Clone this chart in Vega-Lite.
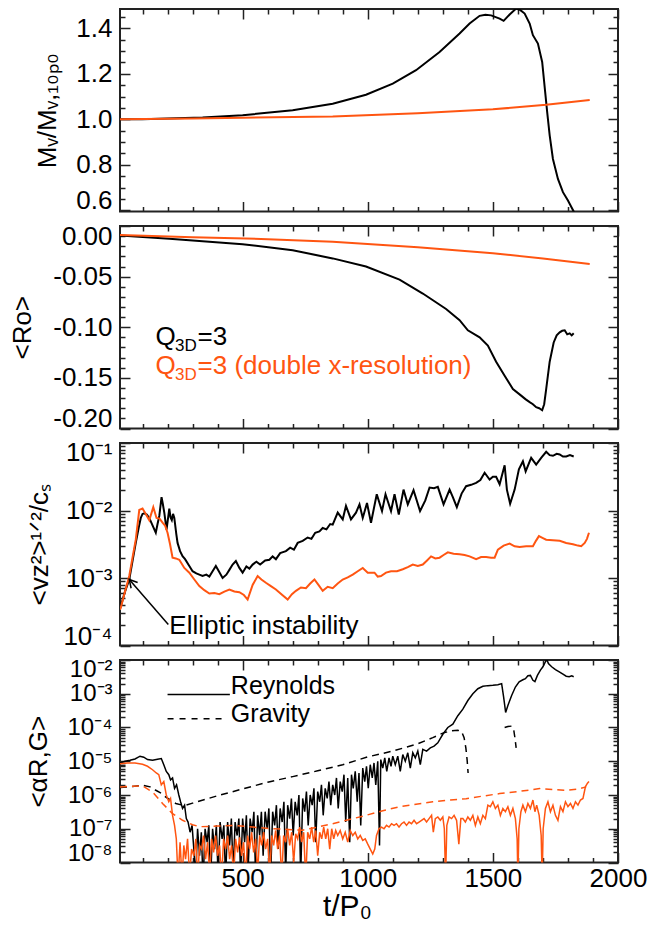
{
  "$schema": "https://vega.github.io/schema/vega-lite/v6.json",
  "padding": {"left": 8, "top": 7, "right": 5, "bottom": 5},
  "autosize": {"type": "pad"},
  "spacing": 14,
  "bounds": "flush",
  "config": {
    "view": {"stroke": "#222", "strokeWidth": 2},
    "axis": {"domain": false, "grid": false, "labelFont": "Liberation Sans", "labelFontSize": 26, "labelColor": "#000", "titleFont": "Liberation Sans", "titleFontSize": 26, "titleFontWeight": "normal", "titleColor": "#000", "tickColor": "#222", "tickWidth": 1.5},
    "text": {"font": "Liberation Sans"}
  },
  "datasets": {
    "p1_black": [{"t":10,"v":1.0},{"t":100,"v":1.0},{"t":200,"v":1.004},{"t":340,"v":1.008},{"t":500,"v":1.018},{"t":700,"v":1.04},{"t":860,"v":1.069},{"t":993,"v":1.108},{"t":1100,"v":1.157},{"t":1193,"v":1.216},{"t":1287,"v":1.296},{"t":1367,"v":1.377},{"t":1407,"v":1.421},{"t":1447,"v":1.455},{"t":1470,"v":1.46},{"t":1493,"v":1.457},{"t":1527,"v":1.443},{"t":1543,"v":1.433},{"t":1567,"v":1.461},{"t":1593,"v":1.487},{"t":1610,"v":1.48},{"t":1627,"v":1.465},{"t":1647,"v":1.421},{"t":1660,"v":1.37},{"t":1680,"v":1.333},{"t":1697,"v":1.252},{"t":1709,"v":1.12},{"t":1717,"v":1.032},{"t":1727,"v":0.93},{"t":1740,"v":0.826},{"t":1760,"v":0.738},{"t":1780,"v":0.68},{"t":1800,"v":0.643},{"t":1823,"v":0.595},{"t":1835,"v":0.57}],
    "p1_orange": [{"t":10,"v":1.0},{"t":300,"v":1.004},{"t":500,"v":1.007},{"t":860,"v":1.013},{"t":1200,"v":1.027},{"t":1500,"v":1.044},{"t":1713,"v":1.064},{"t":1887,"v":1.085}],
    "p2_black": [{"t":10,"v":-0.0094},{"t":207,"v":-0.0127},{"t":500,"v":-0.018},{"t":700,"v":-0.024},{"t":860,"v":-0.032},{"t":993,"v":-0.04},{"t":1127,"v":-0.053},{"t":1220,"v":-0.0667},{"t":1313,"v":-0.082},{"t":1367,"v":-0.093},{"t":1400,"v":-0.103},{"t":1447,"v":-0.11},{"t":1480,"v":-0.118},{"t":1513,"v":-0.134},{"t":1547,"v":-0.148},{"t":1580,"v":-0.161},{"t":1613,"v":-0.1675},{"t":1630,"v":-0.171},{"t":1647,"v":-0.174},{"t":1660,"v":-0.176},{"t":1673,"v":-0.179},{"t":1685,"v":-0.18},{"t":1697,"v":-0.182},{"t":1705,"v":-0.176},{"t":1713,"v":-0.161},{"t":1727,"v":-0.134},{"t":1743,"v":-0.115},{"t":1755,"v":-0.108},{"t":1767,"v":-0.105},{"t":1777,"v":-0.1035},{"t":1787,"v":-0.103},{"t":1797,"v":-0.107},{"t":1807,"v":-0.106},{"t":1815,"v":-0.108},{"t":1823,"v":-0.106}],
    "p2_orange": [{"t":10,"v":-0.009},{"t":300,"v":-0.011},{"t":600,"v":-0.013},{"t":860,"v":-0.0155},{"t":1200,"v":-0.021},{"t":1500,"v":-0.027},{"t":1700,"v":-0.032},{"t":1887,"v":-0.0375}],
    "p3_black": [{"t":10,"v":3.55e-4},{"t":13,"v":3.8e-4},{"t":30,"v":6.3e-4},{"t":47,"v":9.5e-4},{"t":60,"v":1.78e-3},{"t":73,"v":3.31e-3},{"t":85,"v":5.62e-3},{"t":93,"v":7.76e-3},{"t":100,"v":8.9e-3},{"t":107,"v":9.1e-3},{"t":117,"v":8.7e-3},{"t":127,"v":7.76e-3},{"t":140,"v":6.0e-3},{"t":153,"v":4.68e-3},{"t":160,"v":6.3e-3},{"t":167,"v":8.3e-3},{"t":176,"v":1.58e-2},{"t":181,"v":1.26e-2},{"t":187,"v":9.3e-3},{"t":196,"v":5.2e-3},{"t":207,"v":1.07e-2},{"t":212,"v":7.9e-3},{"t":217,"v":7.2e-3},{"t":222,"v":8.9e-3},{"t":227,"v":7.76e-3},{"t":235,"v":4.47e-3},{"t":240,"v":3.31e-3},{"t":250,"v":2.5e-3},{"t":260,"v":2.1e-3},{"t":270,"v":1.9e-3},{"t":287,"v":1.51e-3},{"t":300,"v":1.26e-3},{"t":315,"v":1.17e-3},{"t":327,"v":1.12e-3},{"t":340,"v":1.07e-3},{"t":355,"v":1.12e-3},{"t":367,"v":1.05e-3},{"t":380,"v":1.26e-3},{"t":393,"v":1.51e-3},{"t":405,"v":1.26e-3},{"t":420,"v":1.0e-3},{"t":435,"v":1.12e-3},{"t":447,"v":1.32e-3},{"t":460,"v":1.58e-3},{"t":473,"v":1.78e-3},{"t":487,"v":1.41e-3},{"t":500,"v":1.2e-3},{"t":515,"v":1.48e-3},{"t":527,"v":1.38e-3},{"t":540,"v":1.58e-3},{"t":555,"v":1.74e-3},{"t":570,"v":1.58e-3},{"t":590,"v":1.82e-3},{"t":607,"v":1.86e-3},{"t":620,"v":2.09e-3},{"t":633,"v":1.9e-3},{"t":650,"v":2.34e-3},{"t":673,"v":2.5e-3},{"t":690,"v":2.82e-3},{"t":705,"v":2.63e-3},{"t":720,"v":3.31e-3},{"t":740,"v":3.55e-3},{"t":760,"v":3.98e-3},{"t":775,"v":3.8e-3},{"t":790,"v":4.68e-3},{"t":807,"v":4.9e-3},{"t":820,"v":5.5e-3},{"t":835,"v":5.25e-3},{"t":850,"v":6.3e-3},{"t":860,"v":6.17e-3},{"t":880,"v":9.3e-3},{"t":900,"v":7.4e-3},{"t":913,"v":1.17e-2},{"t":933,"v":7.4e-3},{"t":953,"v":9.3e-3},{"t":967,"v":1.23e-2},{"t":980,"v":7.76e-3},{"t":997,"v":1.29e-2},{"t":1013,"v":6.6e-3},{"t":1036,"v":1.74e-2},{"t":1057,"v":9.8e-3},{"t":1071,"v":1.74e-2},{"t":1093,"v":9.8e-3},{"t":1107,"v":1.74e-2},{"t":1124,"v":8.7e-3},{"t":1143,"v":2.04e-2},{"t":1160,"v":1.23e-2},{"t":1183,"v":2.0e-2},{"t":1209,"v":9.8e-3},{"t":1230,"v":1.41e-2},{"t":1247,"v":2.19e-2},{"t":1265,"v":2.14e-2},{"t":1280,"v":2.24e-2},{"t":1303,"v":1.23e-2},{"t":1327,"v":2.04e-2},{"t":1340,"v":1.58e-2},{"t":1356,"v":1.12e-2},{"t":1375,"v":1.78e-2},{"t":1393,"v":2.29e-2},{"t":1413,"v":2.4e-2},{"t":1433,"v":2.57e-2},{"t":1450,"v":2.82e-2},{"t":1467,"v":3.63e-2},{"t":1487,"v":2.88e-2},{"t":1500,"v":3.16e-2},{"t":1513,"v":3.16e-2},{"t":1527,"v":2.45e-2},{"t":1547,"v":4.68e-2},{"t":1556,"v":2.04e-2},{"t":1569,"v":1.26e-2},{"t":1587,"v":2.04e-2},{"t":1604,"v":4.07e-2},{"t":1620,"v":5.37e-2},{"t":1631,"v":3.8e-2},{"t":1653,"v":6.03e-2},{"t":1673,"v":4.79e-2},{"t":1693,"v":6.03e-2},{"t":1713,"v":7.41e-2},{"t":1727,"v":6.6e-2},{"t":1740,"v":6.46e-2},{"t":1755,"v":6.92e-2},{"t":1767,"v":6.76e-2},{"t":1780,"v":6.3e-2},{"t":1793,"v":6.3e-2},{"t":1808,"v":6.6e-2},{"t":1823,"v":6.3e-2}],
    "p3_orange": [{"t":10,"v":3.4e-4},{"t":13,"v":3.6e-4},{"t":30,"v":6.3e-4},{"t":47,"v":1.07e-3},{"t":60,"v":2.0e-3},{"t":73,"v":3.7e-3},{"t":87,"v":1.02e-2},{"t":100,"v":1.07e-2},{"t":113,"v":8.9e-3},{"t":127,"v":7.2e-3},{"t":143,"v":1.12e-2},{"t":156,"v":7.76e-3},{"t":168,"v":7.6e-3},{"t":180,"v":6.6e-3},{"t":190,"v":6.0e-3},{"t":200,"v":4.68e-3},{"t":210,"v":3.16e-3},{"t":220,"v":2.0e-3},{"t":233,"v":1.95e-3},{"t":247,"v":1.86e-3},{"t":267,"v":1.41e-3},{"t":287,"v":1.2e-3},{"t":307,"v":9.5e-4},{"t":327,"v":7.6e-4},{"t":347,"v":6.6e-4},{"t":367,"v":5.9e-4},{"t":387,"v":6.0e-4},{"t":407,"v":5.75e-4},{"t":427,"v":6.3e-4},{"t":447,"v":6.76e-4},{"t":467,"v":6.3e-4},{"t":487,"v":6.17e-4},{"t":505,"v":5.6e-4},{"t":520,"v":4.8e-4},{"t":540,"v":7.9e-4},{"t":560,"v":1.07e-3},{"t":575,"v":9.5e-4},{"t":593,"v":8.5e-4},{"t":613,"v":7.6e-4},{"t":633,"v":6.76e-4},{"t":655,"v":5.75e-4},{"t":680,"v":4.8e-4},{"t":697,"v":5.75e-4},{"t":713,"v":6.46e-4},{"t":733,"v":7.24e-4},{"t":753,"v":7.08e-4},{"t":770,"v":8.3e-4},{"t":787,"v":9.5e-4},{"t":803,"v":7.9e-4},{"t":820,"v":6.46e-4},{"t":840,"v":7.4e-4},{"t":860,"v":7.08e-4},{"t":880,"v":8.3e-4},{"t":900,"v":9.5e-4},{"t":920,"v":1.02e-3},{"t":940,"v":1.12e-3},{"t":960,"v":1.26e-3},{"t":980,"v":1.41e-3},{"t":1000,"v":1.2e-3},{"t":1027,"v":1.2e-3},{"t":1040,"v":1.05e-3},{"t":1053,"v":1.07e-3},{"t":1073,"v":1.2e-3},{"t":1093,"v":1.26e-3},{"t":1117,"v":1.26e-3},{"t":1140,"v":1.35e-3},{"t":1160,"v":1.45e-3},{"t":1180,"v":1.58e-3},{"t":1200,"v":1.51e-3},{"t":1220,"v":1.58e-3},{"t":1237,"v":1.82e-3},{"t":1253,"v":2.09e-3},{"t":1270,"v":1.95e-3},{"t":1287,"v":2.0e-3},{"t":1303,"v":2.19e-3},{"t":1320,"v":2.4e-3},{"t":1343,"v":2.29e-3},{"t":1367,"v":2.24e-3},{"t":1387,"v":2.19e-3},{"t":1407,"v":2.09e-3},{"t":1433,"v":1.9e-3},{"t":1453,"v":2.04e-3},{"t":1473,"v":2.04e-3},{"t":1493,"v":2.0e-3},{"t":1507,"v":2.0e-3},{"t":1520,"v":2.63e-3},{"t":1543,"v":3.02e-3},{"t":1567,"v":3.24e-3},{"t":1587,"v":2.95e-3},{"t":1607,"v":2.88e-3},{"t":1633,"v":2.95e-3},{"t":1660,"v":2.95e-3},{"t":1672,"v":3.55e-3},{"t":1684,"v":4.17e-3},{"t":1700,"v":3.9e-3},{"t":1713,"v":3.7e-3},{"t":1740,"v":3.63e-3},{"t":1767,"v":3.55e-3},{"t":1793,"v":3.31e-3},{"t":1820,"v":3.16e-3},{"t":1840,"v":3.02e-3},{"t":1853,"v":2.95e-3},{"t":1867,"v":3.31e-3},{"t":1876,"v":3.8e-3},{"t":1884,"v":4.68e-3}],
    "p4_black_rey": [{"t":10,"v":8.9e-6},{"t":30,"v":1.0e-5},{"t":50,"v":1.07e-5},{"t":70,"v":1.17e-5},{"t":90,"v":1.41e-5},{"t":105,"v":1.32e-5},{"t":120,"v":1.12e-5},{"t":140,"v":1.07e-5},{"t":160,"v":1.15e-5},{"t":175,"v":1.2e-5},{"t":185,"v":7.9e-6},{"t":195,"v":5.0e-6},{"t":205,"v":4.0e-6},{"t":212,"v":2.8e-6},{"t":220,"v":3.2e-6},{"t":228,"v":1.58e-6},{"t":236,"v":2.0e-6},{"t":245,"v":1.0e-6},{"t":252,"v":6.3e-7},{"t":260,"v":4.0e-7},{"t":268,"v":5.0e-7},{"t":275,"v":2.0e-7},{"t":282,"v":1.58e-7},{"t":290,"v":7.9e-8},{"t":298,"v":1.26e-7},{"t":305,"v":2.5e-8},{"t":312,"v":3.2e-9},{"t":320,"v":1.0e-7},{"t":328,"v":1.58e-8},{"t":335,"v":7.9e-8},{"t":342,"v":2.5e-9},{"t":350,"v":1.0e-7},{"t":358,"v":4.0e-8},{"t":365,"v":1.26e-7},{"t":372,"v":3.2e-9},{"t":380,"v":1.0e-7},{"t":388,"v":2.5e-8},{"t":395,"v":1.26e-7},{"t":402,"v":4.0e-9},{"t":410,"v":1.58e-7},{"t":418,"v":5.0e-8},{"t":425,"v":1.26e-7},{"t":432,"v":3.2e-9},{"t":440,"v":1.58e-7},{"t":448,"v":3.2e-8},{"t":455,"v":2.0e-7},{"t":462,"v":5.0e-9},{"t":470,"v":1.58e-7},{"t":478,"v":6.3e-8},{"t":485,"v":2.0e-7},{"t":492,"v":4.0e-9},{"t":500,"v":2.0e-7},{"t":508,"v":4.0e-8},{"t":515,"v":2.5e-7},{"t":522,"v":6.3e-9},{"t":530,"v":2.0e-7},{"t":538,"v":7.9e-8},{"t":545,"v":3.2e-7},{"t":552,"v":3.2e-9},{"t":560,"v":2.5e-7},{"t":568,"v":6.3e-8},{"t":575,"v":3.2e-7},{"t":582,"v":1.58e-8},{"t":590,"v":3.2e-7},{"t":598,"v":1.0e-7},{"t":605,"v":4.0e-7},{"t":612,"v":4.0e-9},{"t":620,"v":3.2e-7},{"t":628,"v":1.26e-7},{"t":635,"v":5.0e-7},{"t":642,"v":2.5e-8},{"t":650,"v":4.0e-7},{"t":658,"v":1.58e-7},{"t":665,"v":6.3e-7},{"t":672,"v":5.0e-9},{"t":680,"v":5.0e-7},{"t":688,"v":2.0e-7},{"t":695,"v":7.9e-7},{"t":702,"v":6.3e-8},{"t":710,"v":6.3e-7},{"t":718,"v":2.5e-7},{"t":725,"v":1.0e-6},{"t":732,"v":4.0e-9},{"t":740,"v":7.9e-7},{"t":748,"v":3.2e-7},{"t":755,"v":1.26e-6},{"t":762,"v":1.26e-7},{"t":770,"v":1.0e-6},{"t":778,"v":5.0e-7},{"t":785,"v":1.58e-6},{"t":792,"v":4.0e-8},{"t":800,"v":1.26e-6},{"t":808,"v":6.3e-7},{"t":815,"v":2.0e-6},{"t":822,"v":2.5e-7},{"t":830,"v":1.58e-6},{"t":838,"v":7.9e-7},{"t":845,"v":2.5e-6},{"t":852,"v":5.0e-7},{"t":860,"v":2.0e-6},{"t":868,"v":1.0e-6},{"t":875,"v":3.2e-6},{"t":882,"v":4.0e-7},{"t":890,"v":2.5e-6},{"t":898,"v":1.26e-6},{"t":905,"v":4.0e-6},{"t":912,"v":1.58e-7},{"t":920,"v":3.2e-6},{"t":928,"v":4.0e-8},{"t":935,"v":4.0e-6},{"t":942,"v":1.58e-6},{"t":950,"v":5.0e-6},{"t":958,"v":6.3e-7},{"t":965,"v":4.5e-6},{"t":972,"v":1.26e-7},{"t":980,"v":6.3e-6},{"t":988,"v":2.5e-6},{"t":995,"v":7.1e-6},{"t":1002,"v":1.58e-6},{"t":1010,"v":7.9e-6},{"t":1018,"v":3.2e-6},{"t":1025,"v":8.9e-6},{"t":1032,"v":2.0e-6},{"t":1040,"v":1.0e-5},{"t":1047,"v":3.2e-8},{"t":1052,"v":1.12e-5},{"t":1060,"v":6.3e-6},{"t":1068,"v":1.26e-5},{"t":1076,"v":5.0e-6},{"t":1085,"v":1.26e-5},{"t":1093,"v":7.1e-6},{"t":1100,"v":1.41e-5},{"t":1110,"v":7.9e-6},{"t":1120,"v":1.41e-5},{"t":1130,"v":5.0e-6},{"t":1140,"v":1.58e-5},{"t":1150,"v":1.0e-5},{"t":1160,"v":1.78e-5},{"t":1170,"v":6.3e-6},{"t":1180,"v":1.78e-5},{"t":1190,"v":1.26e-5},{"t":1200,"v":2.0e-5},{"t":1210,"v":7.9e-6},{"t":1220,"v":2.24e-5},{"t":1235,"v":2.0e-5},{"t":1250,"v":2.5e-5},{"t":1265,"v":2.8e-5},{"t":1280,"v":3.5e-5},{"t":1300,"v":6.3e-5},{"t":1320,"v":1.0e-4},{"t":1340,"v":1.26e-4},{"t":1360,"v":2.24e-4},{"t":1380,"v":3.5e-4},{"t":1400,"v":6.3e-4},{"t":1420,"v":1.0e-3},{"t":1440,"v":1.41e-3},{"t":1460,"v":1.66e-3},{"t":1480,"v":1.74e-3},{"t":1500,"v":1.78e-3},{"t":1520,"v":1.86e-3},{"t":1535,"v":2.0e-3},{"t":1543,"v":7.9e-4},{"t":1551,"v":2.8e-4},{"t":1560,"v":4.5e-4},{"t":1575,"v":8.9e-4},{"t":1590,"v":1.58e-3},{"t":1605,"v":2.24e-3},{"t":1620,"v":2.6e-3},{"t":1630,"v":2.8e-3},{"t":1640,"v":3.4e-3},{"t":1650,"v":3.5e-3},{"t":1660,"v":2.5e-3},{"t":1668,"v":2.3e-3},{"t":1678,"v":3.5e-3},{"t":1690,"v":5.0e-3},{"t":1700,"v":6.3e-3},{"t":1710,"v":8.9e-3},{"t":1715,"v":1.05e-2},{"t":1722,"v":7.9e-3},{"t":1735,"v":6.3e-3},{"t":1750,"v":5.2e-3},{"t":1767,"v":4.4e-3},{"t":1780,"v":3.8e-3},{"t":1793,"v":3.3e-3},{"t":1805,"v":3.2e-3},{"t":1815,"v":3.4e-3},{"t":1823,"v":3.2e-3}],
    "p4_black_grav": [{"seg":1,"t":10,"v":1.66e-6},{"seg":1,"t":60,"v":1.78e-6},{"seg":1,"t":100,"v":1.95e-6},{"seg":1,"t":130,"v":1.74e-6},{"seg":1,"t":153,"v":1.38e-6},{"seg":1,"t":175,"v":1.12e-6},{"seg":1,"t":193,"v":8.7e-7},{"seg":1,"t":215,"v":6.8e-7},{"seg":1,"t":233,"v":5.6e-7},{"seg":1,"t":255,"v":5.1e-7},{"seg":1,"t":273,"v":5.0e-7},{"seg":1,"t":300,"v":5.75e-7},{"seg":1,"t":400,"v":9.5e-7},{"seg":1,"t":500,"v":1.51e-6},{"seg":1,"t":600,"v":2.4e-6},{"seg":1,"t":700,"v":3.5e-6},{"seg":1,"t":800,"v":5.2e-6},{"seg":1,"t":900,"v":7.9e-6},{"seg":1,"t":1000,"v":1.35e-5},{"seg":1,"t":1100,"v":2.0e-5},{"seg":1,"t":1200,"v":3.3e-5},{"seg":1,"t":1260,"v":5.0e-5},{"seg":1,"t":1300,"v":6.8e-5},{"seg":1,"t":1330,"v":7.9e-5},{"seg":1,"t":1360,"v":8.3e-5},{"seg":1,"t":1375,"v":7.6e-5},{"seg":1,"t":1385,"v":5.0e-5},{"seg":1,"t":1392,"v":2.5e-5},{"seg":1,"t":1397,"v":1.12e-5},{"seg":1,"t":1401,"v":4.5e-6},{"seg":2,"t":1547,"v":1.0e-4},{"seg":2,"t":1560,"v":1.07e-4},{"seg":2,"t":1575,"v":1.1e-4},{"seg":2,"t":1583,"v":8.9e-5},{"seg":2,"t":1588,"v":5.0e-5},{"seg":2,"t":1593,"v":2.5e-5}],
    "p4_orange_rey": [{"t":10,"v":8.5e-6},{"t":40,"v":8.9e-6},{"t":70,"v":8.9e-6},{"t":100,"v":8.1e-6},{"t":120,"v":7.1e-6},{"t":140,"v":5.6e-6},{"t":155,"v":4.5e-6},{"t":165,"v":4.0e-6},{"t":175,"v":2.0e-6},{"t":185,"v":2.5e-6},{"t":195,"v":1.0e-6},{"t":205,"v":6.3e-7},{"t":212,"v":7.9e-7},{"t":220,"v":2.5e-7},{"t":228,"v":1.26e-7},{"t":235,"v":5.0e-8},{"t":242,"v":3.2e-9},{"t":250,"v":4.0e-8},{"t":258,"v":3.2e-9},{"t":265,"v":3.2e-8},{"t":272,"v":1.26e-8},{"t":280,"v":5.0e-8},{"t":288,"v":4.0e-9},{"t":296,"v":2.5e-8},{"t":305,"v":1.58e-8},{"t":313,"v":5.0e-8},{"t":320,"v":3.2e-9},{"t":328,"v":3.2e-8},{"t":336,"v":2.5e-8},{"t":344,"v":6.3e-8},{"t":352,"v":1.26e-8},{"t":360,"v":4.0e-8},{"t":368,"v":4.0e-9},{"t":376,"v":5.0e-8},{"t":384,"v":2.0e-8},{"t":392,"v":6.3e-8},{"t":400,"v":1.58e-8},{"t":408,"v":3.2e-8},{"t":416,"v":3.2e-9},{"t":424,"v":5.0e-8},{"t":432,"v":2.5e-8},{"t":440,"v":6.3e-8},{"t":448,"v":1.26e-8},{"t":456,"v":3.2e-8},{"t":464,"v":4.0e-9},{"t":472,"v":5.0e-8},{"t":480,"v":2.0e-8},{"t":488,"v":5.6e-8},{"t":496,"v":1.58e-8},{"t":504,"v":4.0e-8},{"t":512,"v":3.2e-9},{"t":520,"v":6.3e-8},{"t":528,"v":2.5e-8},{"t":536,"v":7.9e-8},{"t":544,"v":2.0e-8},{"t":552,"v":5.0e-8},{"t":560,"v":5.0e-9},{"t":568,"v":6.3e-8},{"t":576,"v":3.2e-8},{"t":584,"v":7.9e-8},{"t":592,"v":2.5e-8},{"t":600,"v":5.0e-8},{"t":608,"v":4.0e-9},{"t":616,"v":6.3e-8},{"t":624,"v":3.2e-8},{"t":632,"v":8.9e-8},{"t":640,"v":2.5e-8},{"t":648,"v":6.3e-8},{"t":656,"v":3.2e-9},{"t":664,"v":6.3e-8},{"t":672,"v":4.0e-8},{"t":680,"v":1.0e-7},{"t":688,"v":3.2e-8},{"t":696,"v":7.9e-8},{"t":704,"v":1.0e-8},{"t":712,"v":7.1e-8},{"t":720,"v":5.0e-8},{"t":728,"v":1.12e-7},{"t":736,"v":4.0e-8},{"t":744,"v":7.9e-8},{"t":752,"v":3.2e-9},{"t":760,"v":7.9e-8},{"t":768,"v":5.0e-8},{"t":776,"v":1.12e-7},{"t":784,"v":4.0e-8},{"t":792,"v":8.9e-8},{"t":800,"v":1.58e-8},{"t":808,"v":7.9e-8},{"t":816,"v":5.0e-8},{"t":824,"v":1.12e-7},{"t":832,"v":5.0e-8},{"t":840,"v":1.0e-7},{"t":848,"v":2.5e-8},{"t":856,"v":1.0e-7},{"t":864,"v":5.0e-8},{"t":872,"v":8.9e-8},{"t":880,"v":6.3e-8},{"t":890,"v":8.9e-8},{"t":900,"v":5.0e-8},{"t":910,"v":7.9e-8},{"t":920,"v":4.0e-8},{"t":930,"v":8.9e-8},{"t":940,"v":6.3e-8},{"t":950,"v":7.9e-8},{"t":960,"v":5.0e-8},{"t":970,"v":6.3e-8},{"t":980,"v":4.5e-8},{"t":990,"v":5.0e-8},{"t":1000,"v":3.5e-8},{"t":1010,"v":2.5e-8},{"t":1020,"v":1.78e-8},{"t":1028,"v":2.5e-8},{"t":1035,"v":6.3e-8},{"t":1045,"v":1.0e-7},{"t":1055,"v":1.12e-7},{"t":1065,"v":1.0e-7},{"t":1075,"v":1.26e-7},{"t":1085,"v":1.12e-7},{"t":1095,"v":1.41e-7},{"t":1105,"v":1.26e-7},{"t":1115,"v":1.41e-7},{"t":1125,"v":1.12e-7},{"t":1135,"v":1.41e-7},{"t":1145,"v":1.58e-7},{"t":1155,"v":1.26e-7},{"t":1165,"v":1.58e-7},{"t":1175,"v":1.41e-7},{"t":1185,"v":1.78e-7},{"t":1195,"v":1.41e-7},{"t":1205,"v":1.58e-7},{"t":1215,"v":1.78e-7},{"t":1225,"v":2.0e-7},{"t":1235,"v":1.58e-7},{"t":1245,"v":2.0e-7},{"t":1255,"v":2.5e-7},{"t":1262,"v":7.9e-8},{"t":1270,"v":2.0e-7},{"t":1280,"v":2.24e-7},{"t":1290,"v":1.78e-7},{"t":1300,"v":2.24e-7},{"t":1306,"v":1.0e-7},{"t":1311,"v":3.2e-9},{"t":1316,"v":1.26e-7},{"t":1325,"v":2.24e-7},{"t":1335,"v":2.0e-7},{"t":1345,"v":2.5e-7},{"t":1355,"v":1.78e-7},{"t":1364,"v":3.5e-8},{"t":1372,"v":2.0e-7},{"t":1380,"v":2.0e-7},{"t":1390,"v":1.58e-7},{"t":1400,"v":2.24e-7},{"t":1410,"v":1.78e-7},{"t":1420,"v":2.5e-7},{"t":1430,"v":1.26e-7},{"t":1440,"v":2.24e-7},{"t":1450,"v":1.41e-7},{"t":1460,"v":2.5e-7},{"t":1470,"v":2.0e-7},{"t":1480,"v":5.0e-7},{"t":1490,"v":4.5e-7},{"t":1500,"v":6.3e-7},{"t":1510,"v":4.0e-7},{"t":1520,"v":5.0e-7},{"t":1530,"v":2.5e-7},{"t":1540,"v":4.0e-7},{"t":1550,"v":3.2e-7},{"t":1560,"v":4.5e-7},{"t":1570,"v":2.5e-7},{"t":1580,"v":4.0e-7},{"t":1590,"v":2.0e-7},{"t":1597,"v":5.0e-8},{"t":1600,"v":3.2e-9},{"t":1604,"v":1.0e-7},{"t":1612,"v":3.2e-7},{"t":1620,"v":5.0e-7},{"t":1630,"v":3.2e-7},{"t":1640,"v":5.6e-7},{"t":1650,"v":4.0e-7},{"t":1660,"v":7.1e-7},{"t":1668,"v":3.2e-7},{"t":1675,"v":5.0e-7},{"t":1685,"v":2.5e-7},{"t":1693,"v":6.3e-8},{"t":1697,"v":3.2e-9},{"t":1701,"v":1.0e-7},{"t":1710,"v":4.0e-7},{"t":1720,"v":6.3e-7},{"t":1730,"v":3.2e-7},{"t":1740,"v":5.0e-7},{"t":1750,"v":2.5e-7},{"t":1760,"v":1.78e-7},{"t":1770,"v":4.5e-7},{"t":1780,"v":3.2e-7},{"t":1790,"v":6.3e-7},{"t":1800,"v":4.5e-7},{"t":1810,"v":5.6e-7},{"t":1820,"v":4.0e-7},{"t":1830,"v":6.3e-7},{"t":1840,"v":5.0e-7},{"t":1850,"v":7.1e-7},{"t":1860,"v":7.9e-7},{"t":1870,"v":1.78e-6},{"t":1878,"v":2.24e-6},{"t":1884,"v":2.5e-6}],
    "p4_orange_grav": [{"t":10,"v":1.74e-6},{"t":50,"v":1.82e-6},{"t":100,"v":1.86e-6},{"t":140,"v":1.23e-6},{"t":180,"v":5.6e-7},{"t":220,"v":2.8e-7},{"t":260,"v":1.78e-7},{"t":300,"v":1.32e-7},{"t":327,"v":1.15e-7},{"t":400,"v":1.2e-7},{"t":467,"v":1.26e-7},{"t":540,"v":1.12e-7},{"t":607,"v":1.02e-7},{"t":680,"v":9.5e-8},{"t":740,"v":9.1e-8},{"t":800,"v":1.12e-7},{"t":860,"v":1.41e-7},{"t":930,"v":1.9e-7},{"t":993,"v":2.5e-7},{"t":1060,"v":3.4e-7},{"t":1127,"v":4.5e-7},{"t":1200,"v":5.4e-7},{"t":1260,"v":6.3e-7},{"t":1330,"v":7.1e-7},{"t":1393,"v":7.8e-7},{"t":1460,"v":9.3e-7},{"t":1527,"v":1.1e-6},{"t":1600,"v":1.26e-6},{"t":1687,"v":1.55e-6},{"t":1740,"v":1.45e-6},{"t":1793,"v":1.38e-6},{"t":1840,"v":1.51e-6},{"t":1873,"v":1.74e-6}]
  },
  "vconcat": [
    {
      "width": 498, "height": 202.5,
      "layer": [
        {"data": {"name": "p1_black"}, "mark": {"type": "line", "color": "#000", "strokeWidth": 2, "clip": true},
         "encoding": {
           "x": {"field": "t", "type": "quantitative", "scale": {"domain": [10, 2000], "nice": false, "zero": false}, "axis": {"orient": "bottom", "values": [100,200,300,400,600,700,800,900,1100,1200,1300,1400,1600,1700,1800,1900], "tickSize": -5, "labels": false, "title": null}},
           "y": {"field": "v", "type": "quantitative", "scale": {"domain": [0.595, 1.485], "nice": false, "zero": false}, "axis": {"orient": "left", "values": [0.65,0.7,0.75,0.85,0.9,0.95,1.05,1.1,1.15,1.25,1.3,1.35,1.45], "tickSize": -5, "labels": false, "title": null}}}},
        {"data": {"name": "p1_orange"}, "mark": {"type": "line", "color": "#ff5511", "strokeWidth": 2, "clip": true},
         "encoding": {
           "x": {"field": "t", "type": "quantitative", "scale": {"domain": [10, 2000], "nice": false, "zero": false}, "axis": {"orient": "bottom", "values": [500,1000,1500,2000], "tickSize": -10, "labels": false, "title": null}},
           "y": {"field": "v", "type": "quantitative", "scale": {"domain": [0.595, 1.485], "nice": false, "zero": false}, "axis": {"orient": "left", "values": [0.6,0.8,1.0,1.2,1.4], "tickSize": -10, "labels": false, "title": null}}}},
        {"data": {"name": "p1_orange"}, "mark": {"type": "point", "opacity": 0},
         "encoding": {
           "x": {"field": "t", "type": "quantitative", "scale": {"domain": [10, 2000], "nice": false, "zero": false}, "axis": {"orient": "top", "values": [100,200,300,400,600,700,800,900,1100,1200,1300,1400,1600,1700,1800,1900], "tickSize": -5, "labels": false, "title": null}},
           "y": {"field": "v", "type": "quantitative", "scale": {"domain": [0.595, 1.485], "nice": false, "zero": false}, "axis": {"orient": "right", "values": [0.65,0.7,0.75,0.85,0.9,0.95,1.05,1.1,1.15,1.25,1.3,1.35,1.45], "tickSize": -5, "labels": false, "title": null}}}},
        {"data": {"name": "p1_orange"}, "mark": {"type": "point", "opacity": 0},
         "encoding": {
           "x": {"field": "t", "type": "quantitative", "scale": {"domain": [10, 2000], "nice": false, "zero": false}, "axis": {"orient": "top", "values": [500,1000,1500,2000], "tickSize": -10, "labels": false, "title": null}},
           "y": {"field": "v", "type": "quantitative", "scale": {"domain": [0.595, 1.485], "nice": false, "zero": false}, "axis": {"orient": "right", "values": [0.6,0.8,1.0,1.2,1.4], "tickSize": -10, "labels": false, "title": null}}}},
        {"data": {"name": "p1_orange"}, "mark": {"type": "point", "opacity": 0},
         "encoding": {
           "x": {"field": "t", "type": "quantitative", "scale": {"domain": [10, 2000], "nice": false, "zero": false}, "axis": null},
           "y": {"field": "v", "type": "quantitative", "scale": {"domain": [0.595, 1.485], "nice": false, "zero": false}, "axis": {"orient": "left", "values": [0.6,0.8,1.0,1.2,1.4], "ticks": false, "labelPadding": 8, "labelFlush": 2, "labelFlushOffset": 3, "labelOverlap": false, "labelExpr": "format(datum.value, '.1f')", "title": "Mᵥ/Mᵥ,₁₀ₚ₀", "titlePadding": 15}}}}
      ],
      "resolve": {"axis": {"x": "independent", "y": "independent"}}
    },
    {
      "width": 498, "height": 202.5,
      "layer": [
        {"data": {"name": "p2_black"}, "mark": {"type": "line", "color": "#000", "strokeWidth": 2, "clip": true},
         "encoding": {
           "x": {"field": "t", "type": "quantitative", "scale": {"domain": [10, 2000], "nice": false, "zero": false}, "axis": {"orient": "bottom", "values": [100,200,300,400,600,700,800,900,1100,1200,1300,1400,1600,1700,1800,1900], "tickSize": -5, "labels": false, "title": null}},
           "y": {"field": "v", "type": "quantitative", "scale": {"domain": [-0.2, 0], "nice": false, "zero": false}, "axis": {"orient": "left", "values": [-0.01,-0.02,-0.03,-0.04,-0.06,-0.07,-0.08,-0.09,-0.11,-0.12,-0.13,-0.14,-0.16,-0.17,-0.18,-0.19], "tickSize": -5, "labels": false, "title": null}}}},
        {"data": {"name": "p2_orange"}, "mark": {"type": "line", "color": "#ff5511", "strokeWidth": 2, "clip": true},
         "encoding": {
           "x": {"field": "t", "type": "quantitative", "scale": {"domain": [10, 2000], "nice": false, "zero": false}, "axis": {"orient": "bottom", "values": [500,1000,1500,2000], "tickSize": -10, "labels": false, "title": null}},
           "y": {"field": "v", "type": "quantitative", "scale": {"domain": [-0.2, 0], "nice": false, "zero": false}, "axis": {"orient": "left", "values": [0,-0.05,-0.1,-0.15,-0.2], "tickSize": -10, "labels": false, "title": null}}}},
        {"data": {"name": "p2_orange"}, "mark": {"type": "point", "opacity": 0},
         "encoding": {
           "x": {"field": "t", "type": "quantitative", "scale": {"domain": [10, 2000], "nice": false, "zero": false}, "axis": {"orient": "top", "values": [100,200,300,400,600,700,800,900,1100,1200,1300,1400,1600,1700,1800,1900], "tickSize": -5, "labels": false, "title": null}},
           "y": {"field": "v", "type": "quantitative", "scale": {"domain": [-0.2, 0], "nice": false, "zero": false}, "axis": {"orient": "right", "values": [-0.01,-0.02,-0.03,-0.04,-0.06,-0.07,-0.08,-0.09,-0.11,-0.12,-0.13,-0.14,-0.16,-0.17,-0.18,-0.19], "tickSize": -5, "labels": false, "title": null}}}},
        {"data": {"name": "p2_orange"}, "mark": {"type": "point", "opacity": 0},
         "encoding": {
           "x": {"field": "t", "type": "quantitative", "scale": {"domain": [10, 2000], "nice": false, "zero": false}, "axis": {"orient": "top", "values": [500,1000,1500,2000], "tickSize": -10, "labels": false, "title": null}},
           "y": {"field": "v", "type": "quantitative", "scale": {"domain": [-0.2, 0], "nice": false, "zero": false}, "axis": {"orient": "right", "values": [0,-0.05,-0.1,-0.15,-0.2], "tickSize": -10, "labels": false, "title": null}}}},
        {"data": {"name": "p2_orange"}, "mark": {"type": "point", "opacity": 0},
         "encoding": {
           "x": {"field": "t", "type": "quantitative", "scale": {"domain": [10, 2000], "nice": false, "zero": false}, "axis": null},
           "y": {"field": "v", "type": "quantitative", "scale": {"domain": [-0.2, 0], "nice": false, "zero": false}, "axis": {"orient": "left", "values": [0,-0.05,-0.1,-0.15,-0.2], "ticks": false, "labelPadding": 8, "labelFlush": 2, "labelFlushOffset": 3, "labelOverlap": false, "labelExpr": "replace(format(datum.value, '.2f'), '\u2212', '-')", "title": "<Ro>", "titlePadding": 17}}}},
        {"data": {"values": [{"t": 152, "v": -0.1179, "txt": "Q"}, {"t": 320, "v": -0.1179, "txt": "=3"}]},
         "mark": {"type": "text", "align": "left", "baseline": "alphabetic", "fontSize": 26, "color": "#000"},
         "encoding": {
           "x": {"field": "t", "type": "quantitative", "scale": {"domain": [10, 2000], "nice": false, "zero": false}, "axis": null},
           "y": {"field": "v", "type": "quantitative", "scale": {"domain": [-0.2, 0], "nice": false, "zero": false}, "axis": null},
           "text": {"field": "txt"}}},
        {"data": {"values": [{"t": 230, "v": -0.1179, "txt": "3D"}]},
         "mark": {"type": "text", "align": "left", "baseline": "alphabetic", "fontSize": 17, "dy": 6, "color": "#000"},
         "encoding": {
           "x": {"field": "t", "type": "quantitative", "scale": {"domain": [10, 2000], "nice": false, "zero": false}, "axis": null},
           "y": {"field": "v", "type": "quantitative", "scale": {"domain": [-0.2, 0], "nice": false, "zero": false}, "axis": null},
           "text": {"field": "txt"}}},
        {"data": {"values": [{"t": 152, "v": -0.146, "txt": "Q"}, {"t": 320, "v": -0.146, "txt": "=3 (double x-resolution)"}]},
         "mark": {"type": "text", "align": "left", "baseline": "alphabetic", "fontSize": 26, "color": "#ff5511"},
         "encoding": {
           "x": {"field": "t", "type": "quantitative", "scale": {"domain": [10, 2000], "nice": false, "zero": false}, "axis": null},
           "y": {"field": "v", "type": "quantitative", "scale": {"domain": [-0.2, 0], "nice": false, "zero": false}, "axis": null},
           "text": {"field": "txt"}}},
        {"data": {"values": [{"t": 230, "v": -0.146, "txt": "3D"}]},
         "mark": {"type": "text", "align": "left", "baseline": "alphabetic", "fontSize": 17, "dy": 6, "color": "#ff5511"},
         "encoding": {
           "x": {"field": "t", "type": "quantitative", "scale": {"domain": [10, 2000], "nice": false, "zero": false}, "axis": null},
           "y": {"field": "v", "type": "quantitative", "scale": {"domain": [-0.2, 0], "nice": false, "zero": false}, "axis": null},
           "text": {"field": "txt"}}}
      ],
      "resolve": {"axis": {"x": "independent", "y": "independent"}}
    },
    {
      "width": 498, "height": 202.5,
      "layer": [
        {"data": {"name": "p3_black"}, "mark": {"type": "line", "color": "#000", "strokeWidth": 2, "clip": true},
         "encoding": {
           "x": {"field": "t", "type": "quantitative", "scale": {"domain": [10, 2000], "nice": false, "zero": false}, "axis": {"orient": "bottom", "values": [100,200,300,400,600,700,800,900,1100,1200,1300,1400,1600,1700,1800,1900], "tickSize": -5, "labels": false, "title": null}},
           "y": {"field": "v", "type": "quantitative", "scale": {"type": "log", "domain": [1e-4, 0.1], "nice": false}, "axis": {"orient": "left", "values": [2e-4,3e-4,4e-4,5e-4,6e-4,7e-4,8e-4,9e-4,2e-3,3e-3,4e-3,5e-3,6e-3,7e-3,8e-3,9e-3,2e-2,3e-2,4e-2,5e-2,6e-2,7e-2,8e-2,9e-2], "tickSize": -5, "labels": false, "title": null}}}},
        {"data": {"name": "p3_orange"}, "mark": {"type": "line", "color": "#ff5511", "strokeWidth": 2, "clip": true},
         "encoding": {
           "x": {"field": "t", "type": "quantitative", "scale": {"domain": [10, 2000], "nice": false, "zero": false}, "axis": {"orient": "bottom", "values": [500,1000,1500,2000], "tickSize": -10, "labels": false, "title": null}},
           "y": {"field": "v", "type": "quantitative", "scale": {"type": "log", "domain": [1e-4, 0.1], "nice": false}, "axis": {"orient": "left", "values": [1e-4,1e-3,1e-2,1e-1], "tickSize": -10, "labels": false, "title": null}}}},
        {"data": {"name": "p3_orange"}, "mark": {"type": "point", "opacity": 0},
         "encoding": {
           "x": {"field": "t", "type": "quantitative", "scale": {"domain": [10, 2000], "nice": false, "zero": false}, "axis": {"orient": "top", "values": [100,200,300,400,600,700,800,900,1100,1200,1300,1400,1600,1700,1800,1900], "tickSize": -5, "labels": false, "title": null}},
           "y": {"field": "v", "type": "quantitative", "scale": {"type": "log", "domain": [1e-4, 0.1], "nice": false}, "axis": {"orient": "right", "values": [2e-4,3e-4,4e-4,5e-4,6e-4,7e-4,8e-4,9e-4,2e-3,3e-3,4e-3,5e-3,6e-3,7e-3,8e-3,9e-3,2e-2,3e-2,4e-2,5e-2,6e-2,7e-2,8e-2,9e-2], "tickSize": -5, "labels": false, "title": null}}}},
        {"data": {"name": "p3_orange"}, "mark": {"type": "point", "opacity": 0},
         "encoding": {
           "x": {"field": "t", "type": "quantitative", "scale": {"domain": [10, 2000], "nice": false, "zero": false}, "axis": {"orient": "top", "values": [500,1000,1500,2000], "tickSize": -10, "labels": false, "title": null}},
           "y": {"field": "v", "type": "quantitative", "scale": {"type": "log", "domain": [1e-4, 0.1], "nice": false}, "axis": {"orient": "right", "values": [1e-4,1e-3,1e-2,1e-1], "tickSize": -10, "labels": false, "title": null}}}},
        {"data": {"name": "p3_orange"}, "mark": {"type": "point", "opacity": 0},
         "encoding": {
           "x": {"field": "t", "type": "quantitative", "scale": {"domain": [10, 2000], "nice": false, "zero": false}, "axis": null},
           "y": {"field": "v", "type": "quantitative", "scale": {"type": "log", "domain": [1e-4, 0.1], "nice": false}, "axis": {"orient": "left", "values": [1e-4,1e-3,1e-2,1e-1], "ticks": false, "labelPadding": 8, "labelFlush": 2, "labelFlushOffset": 4, "labelOverlap": false, "labelExpr": "'10' + ['⁰','⁻¹','⁻²','⁻³','⁻⁴','⁻⁵','⁻⁶','⁻⁷','⁻⁸'][round(-log(datum.value)/LN10)]", "title": "<vz²>¹ᐟ²/cₛ", "titlePadding": 10}}}},
        {"data": {"values": [{"t": 203, "v": 2.05e-4, "t2": 47, "v2": 9.5e-4}]},
         "mark": {"type": "rule", "color": "#000", "strokeWidth": 1.5},
         "encoding": {
           "x": {"field": "t", "type": "quantitative", "scale": {"domain": [10, 2000], "nice": false, "zero": false}, "axis": null},
           "y": {"field": "v", "type": "quantitative", "scale": {"type": "log", "domain": [1e-4, 0.1], "nice": false}, "axis": null},
           "x2": {"field": "t2"}, "y2": {"field": "v2"}}},
        {"data": {"values": [{"t": 47, "v": 9.5e-4}]},
         "mark": {"type": "point", "shape": "M-0.5,0.9L0,0L0.5,0.9", "angle": -41, "size": 300, "filled": false, "stroke": "#000", "strokeWidth": 1.5, "opacity": 1},
         "encoding": {
           "x": {"field": "t", "type": "quantitative", "scale": {"domain": [10, 2000], "nice": false, "zero": false}, "axis": null},
           "y": {"field": "v", "type": "quantitative", "scale": {"type": "log", "domain": [1e-4, 0.1], "nice": false}, "axis": null}}},
        {"data": {"values": [{"t": 207, "v": 1.456e-4, "txt": "Elliptic instability"}]},
         "mark": {"type": "text", "align": "left", "baseline": "alphabetic", "fontSize": 26, "color": "#000"},
         "encoding": {
           "x": {"field": "t", "type": "quantitative", "scale": {"domain": [10, 2000], "nice": false, "zero": false}, "axis": null},
           "y": {"field": "v", "type": "quantitative", "scale": {"type": "log", "domain": [1e-4, 0.1], "nice": false}, "axis": null},
           "text": {"field": "txt"}}}
      ],
      "resolve": {"axis": {"x": "independent", "y": "independent"}}
    },
    {
      "width": 498, "height": 202.5,
      "layer": [
        {"data": {"name": "p4_black_rey"}, "mark": {"type": "line", "color": "#000", "strokeWidth": 1.5, "clip": true},
         "encoding": {
           "x": {"field": "t", "type": "quantitative", "scale": {"domain": [10, 2000], "nice": false, "zero": false}, "axis": {"orient": "bottom", "values": [100,200,300,400,600,700,800,900,1100,1200,1300,1400,1600,1700,1800,1900], "tickSize": -5, "labels": false, "title": null}},
           "y": {"field": "v", "type": "quantitative", "scale": {"type": "log", "domain": [1e-8, 1e-2], "nice": false}, "axis": {"orient": "left", "values": [2e-8,3e-8,4e-8,5e-8,6e-8,7e-8,8e-8,9e-8,2e-7,3e-7,4e-7,5e-7,6e-7,7e-7,8e-7,9e-7,2e-6,3e-6,4e-6,5e-6,6e-6,7e-6,8e-6,9e-6,2e-5,3e-5,4e-5,5e-5,6e-5,7e-5,8e-5,9e-5,2e-4,3e-4,4e-4,5e-4,6e-4,7e-4,8e-4,9e-4,2e-3,3e-3,4e-3,5e-3,6e-3,7e-3,8e-3,9e-3], "tickSize": -5, "labels": false, "title": null}}}},
        {"data": {"name": "p4_black_grav"}, "mark": {"type": "line", "color": "#000", "strokeWidth": 1.5, "strokeDash": [7, 5], "clip": true},
         "encoding": {
           "x": {"field": "t", "type": "quantitative", "scale": {"domain": [10, 2000], "nice": false, "zero": false}, "axis": {"orient": "bottom", "values": [500,1000,1500,2000], "tickSize": -10, "labels": false, "title": null}},
           "y": {"field": "v", "type": "quantitative", "scale": {"type": "log", "domain": [1e-8, 1e-2], "nice": false}, "axis": {"orient": "left", "values": [1e-8,1e-7,1e-6,1e-5,1e-4,1e-3,1e-2], "tickSize": -10, "labels": false, "title": null}},
           "detail": {"field": "seg"}}},
        {"data": {"name": "p4_orange_rey"}, "mark": {"type": "line", "color": "#ff5511", "strokeWidth": 1.5, "clip": true},
         "encoding": {
           "x": {"field": "t", "type": "quantitative", "scale": {"domain": [10, 2000], "nice": false, "zero": false}, "axis": {"orient": "top", "values": [100,200,300,400,600,700,800,900,1100,1200,1300,1400,1600,1700,1800,1900], "tickSize": -5, "labels": false, "title": null}},
           "y": {"field": "v", "type": "quantitative", "scale": {"type": "log", "domain": [1e-8, 1e-2], "nice": false}, "axis": {"orient": "right", "values": [2e-8,3e-8,4e-8,5e-8,6e-8,7e-8,8e-8,9e-8,2e-7,3e-7,4e-7,5e-7,6e-7,7e-7,8e-7,9e-7,2e-6,3e-6,4e-6,5e-6,6e-6,7e-6,8e-6,9e-6,2e-5,3e-5,4e-5,5e-5,6e-5,7e-5,8e-5,9e-5,2e-4,3e-4,4e-4,5e-4,6e-4,7e-4,8e-4,9e-4,2e-3,3e-3,4e-3,5e-3,6e-3,7e-3,8e-3,9e-3], "tickSize": -5, "labels": false, "title": null}}}},
        {"data": {"name": "p4_orange_grav"}, "mark": {"type": "line", "color": "#ff5511", "strokeWidth": 1.5, "strokeDash": [7, 5], "clip": true},
         "encoding": {
           "x": {"field": "t", "type": "quantitative", "scale": {"domain": [10, 2000], "nice": false, "zero": false}, "axis": {"orient": "top", "values": [500,1000,1500,2000], "tickSize": -10, "labels": false, "title": null}},
           "y": {"field": "v", "type": "quantitative", "scale": {"type": "log", "domain": [1e-8, 1e-2], "nice": false}, "axis": {"orient": "right", "values": [1e-8,1e-7,1e-6,1e-5,1e-4,1e-3,1e-2], "tickSize": -10, "labels": false, "title": null}}}},
        {"data": {"name": "p4_orange_grav"}, "mark": {"type": "point", "opacity": 0},
         "encoding": {
           "x": {"field": "t", "type": "quantitative", "scale": {"domain": [10, 2000], "nice": false, "zero": false}, "axis": {"orient": "bottom", "values": [500,1000,1500,2000], "ticks": false, "labelPadding": 3, "labelFlush": false, "labelOverlap": false, "format": "d", "title": "t/P₀", "titleFontSize": 30, "titlePadding": 0, "titleX": 227, "titleAlign": "center"}},
           "y": {"field": "v", "type": "quantitative", "scale": {"type": "log", "domain": [1e-8, 1e-2], "nice": false}, "axis": {"orient": "left", "values": [1e-8,1e-7,1e-6,1e-5,1e-4,1e-3,1e-2], "ticks": false, "labelPadding": 8, "labelFontSize": 24, "labelFlush": 2, "labelFlushOffset": 3, "labelOverlap": false, "labelExpr": "'10' + ['⁰','⁻¹','⁻²','⁻³','⁻⁴','⁻⁵','⁻⁶','⁻⁷','⁻⁸'][round(-log(datum.value)/LN10)]", "title": "<αR,G>", "titlePadding": 15}}}},
        {"data": {"values": [{"t": 200, "t2": 449, "v": 9.55e-4}]},
         "mark": {"type": "rule", "color": "#000", "strokeWidth": 1.5},
         "encoding": {
           "x": {"field": "t", "type": "quantitative", "scale": {"domain": [10, 2000], "nice": false, "zero": false}, "axis": null},
           "x2": {"field": "t2"},
           "y": {"field": "v", "type": "quantitative", "scale": {"type": "log", "domain": [1e-8, 1e-2], "nice": false}, "axis": null}}},
        {"data": {"values": [{"t": 200, "t2": 427, "v": 1.82e-4}]},
         "mark": {"type": "rule", "color": "#000", "strokeWidth": 1.5, "strokeDash": [6, 6]},
         "encoding": {
           "x": {"field": "t", "type": "quantitative", "scale": {"domain": [10, 2000], "nice": false, "zero": false}, "axis": null},
           "x2": {"field": "t2"},
           "y": {"field": "v", "type": "quantitative", "scale": {"type": "log", "domain": [1e-8, 1e-2], "nice": false}, "axis": null}}},
        {"data": {"values": [{"t": 453, "v": 9.55e-4, "txt": "Reynolds"}, {"t": 453, "v": 1.49e-4, "txt": "Gravity"}]},
         "mark": {"type": "text", "align": "left", "baseline": "alphabetic", "fontSize": 25, "color": "#000"},
         "encoding": {
           "x": {"field": "t", "type": "quantitative", "scale": {"domain": [10, 2000], "nice": false, "zero": false}, "axis": null},
           "y": {"field": "v", "type": "quantitative", "scale": {"type": "log", "domain": [1e-8, 1e-2], "nice": false}, "axis": null},
           "text": {"field": "txt"}}}
      ],
      "resolve": {"axis": {"x": "independent", "y": "independent"}}
    }
  ]
}
